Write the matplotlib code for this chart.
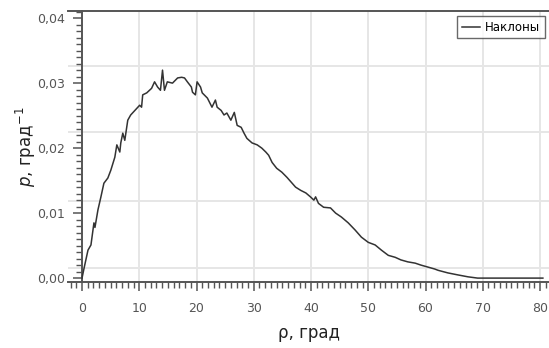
import matplotlib
matplotlib.use("Agg")
import matplotlib.pyplot as plt
import numpy as np
from matplotlib.ticker import MultipleLocator, FuncFormatter

rho = [0.0, 0.35, 1.04, 1.56, 2.08, 2.26, 2.78, 3.30, 3.82, 4.51, 5.03, 5.73, 6.08,
       6.60, 6.77, 7.12, 7.47, 7.99, 8.5, 10.07, 10.4, 10.6, 11.3, 12.15, 12.67, 13.2,
       13.7, 14.06, 14.4, 14.9, 15.8, 16.7, 17.4, 17.9, 18.4, 19.1, 19.3, 19.8, 20.1,
       20.7, 21.0, 21.9, 22.7, 23.3, 23.6, 24.3, 24.8, 25.3, 26.0, 26.6, 27.1, 27.8,
       28.3, 28.8, 29.7, 30.6, 31.4, 32.1, 32.6, 33.2, 34.0, 34.9, 35.8, 36.5, 37.3,
       38.2, 39.1, 39.9, 40.5, 40.8, 41.3, 42.2, 43.4, 44.3, 45.3, 46.5, 47.7, 48.8,
       50.0, 51.2, 52.3, 53.5, 54.7, 55.7, 56.9, 58.2, 59.2, 60.4, 61.6, 62.2, 63.9,
       65.6, 67.4, 69.1, 70.8, 72.6, 76.0, 80.5]
p = [0.0, 0.0015, 0.0043, 0.0051, 0.0085, 0.0078, 0.0105, 0.0125, 0.0146, 0.0154,
     0.0166, 0.0186, 0.0205, 0.0194, 0.0208, 0.0223, 0.0212, 0.0243, 0.0251, 0.0266,
     0.0263, 0.0282, 0.0285, 0.0292, 0.0302, 0.0294, 0.0289, 0.0320, 0.0289, 0.0302,
     0.0300, 0.0308, 0.0309, 0.0308, 0.0302, 0.0294, 0.0286, 0.0282, 0.0302, 0.0294,
     0.0285, 0.0277, 0.0263, 0.0274, 0.0263, 0.0258, 0.0251, 0.0254, 0.0243, 0.0255,
     0.0235, 0.0232, 0.0223, 0.0215, 0.0208, 0.0205, 0.0200, 0.0194, 0.0189, 0.0178,
     0.0169, 0.0163, 0.0155, 0.0148, 0.0140, 0.0135, 0.0131, 0.0125, 0.0120, 0.0125,
     0.0115, 0.0109, 0.0108, 0.0100, 0.0094, 0.0085, 0.0074, 0.0063, 0.0055, 0.0051,
     0.0043, 0.0035, 0.0032, 0.0028, 0.0025, 0.0023, 0.0020, 0.0017, 0.0014, 0.0012,
     0.0008, 0.0005, 0.0002, 0.0, 0.0, 0.0, 0.0, 0.0]
series_name = "Наклоны"

plt.rcParams['mathtext.fontset'] = 'dejavusans'

fig = plt.figure(figsize=(5.49, 3.48), dpi=100)
ax = fig.add_axes([68/549, 66/348, 481/549, 271/348])

ax.set_xlim(-2.45, 81.57)
ax.set_ylim(-0.0006, 0.0411)

# сетка
for gx in range(10, 90, 10):
    ax.axvline(gx, color='#e6e6e6', lw=1.4, zorder=0)
for gy in [0.0015, 0.0118, 0.0225, 0.0326]:
    ax.axhline(gy, color='#e6e6e6', lw=1.4, zorder=0)

ax.plot(rho, p, color='#333333', lw=1.1, label=series_name, zorder=3)

ax.spines['left'].set_position(('data', 0))
ax.spines['right'].set_visible(False)
for s in ['left', 'bottom', 'top']:
    ax.spines[s].set_color('#555555')
    ax.spines[s].set_linewidth(1.4)

ax.xaxis.set_major_locator(MultipleLocator(10))
ax.xaxis.set_minor_locator(MultipleLocator(1))
ax.yaxis.set_major_locator(MultipleLocator(0.01))
ax.yaxis.set_minor_locator(MultipleLocator(0.001))
ax.set_xticks(np.arange(0, 81, 10))
ax.set_yticks(np.arange(0, 0.041, 0.01))
ax.yaxis.set_major_formatter(FuncFormatter(lambda v, pos: f"{v:.2f}".replace('.', ',')))

ax.tick_params(which='major', direction='out', length=6.5, width=1.1, color='#555555',
               labelsize=9, labelcolor='#555555', pad=6)
ax.tick_params(axis='x', which='major', pad=8)
ax.tick_params(which='minor', direction='out', length=4, width=1.0, color='#555555')

ax.set_xlabel('ρ, град', fontsize=12, color='#222222')
ax.xaxis.set_label_coords(0.5, -0.155)
ax.set_ylabel(r'$p$, град$^{-1}$', fontsize=12, color='#222222')
ax.yaxis.set_label_coords(-0.062, 0.5)

leg = ax.legend(loc='upper right', bbox_to_anchor=(545/549, 1 - 16/348),
                bbox_transform=fig.transFigure, fontsize=8.5, frameon=True, fancybox=False,
                handlelength=1.6, handletextpad=0.4, borderpad=0.4, borderaxespad=0)
leg.get_frame().set_edgecolor('#444444')
leg.get_frame().set_linewidth(1.0)

fig.savefig('out.png', dpi=100)
